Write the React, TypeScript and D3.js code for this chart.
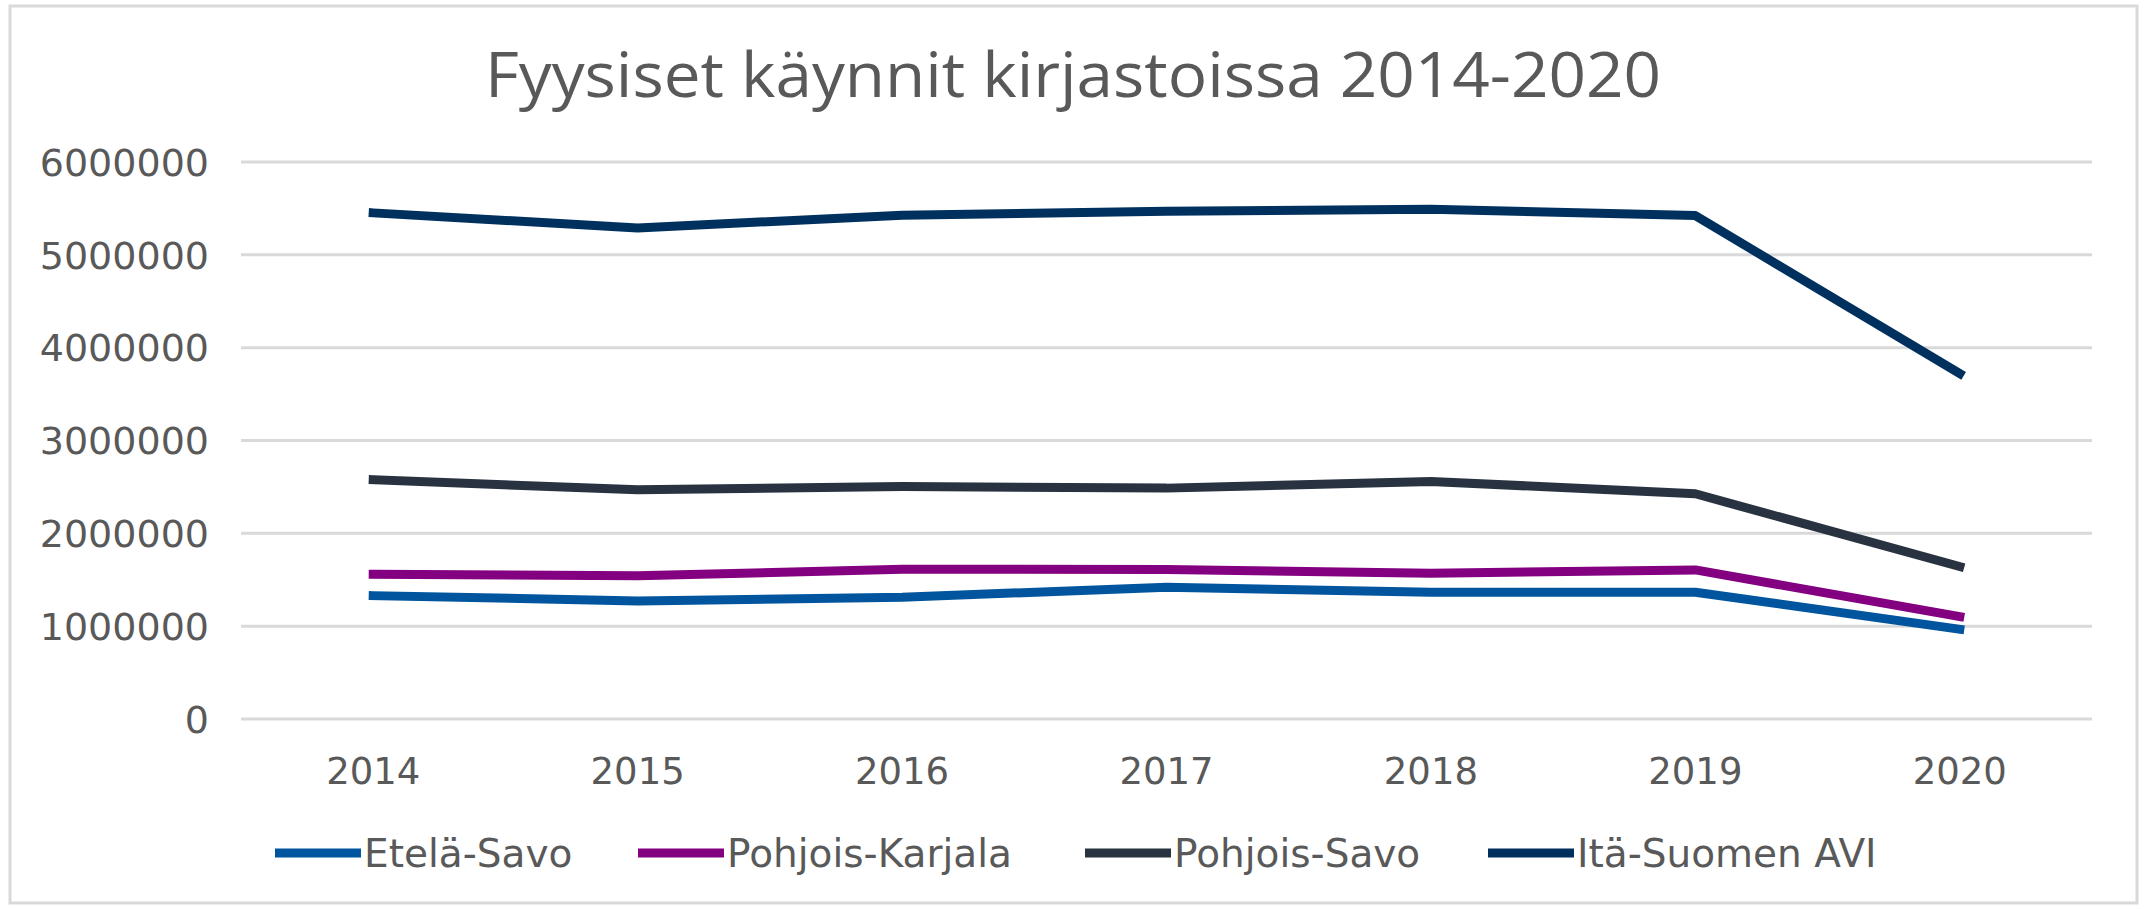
import React from "react";
import * as d3 from "d3";

const years = ["2014", "2015", "2016", "2017", "2018", "2019", "2020"];
const seriesNames = ["Etelä-Savo", "Pohjois-Karjala", "Pohjois-Savo", "Itä-Suomen AVI"];
const eteläSavo = [1329000, 1272000, 1312000, 1420000, 1366000, 1366000, 967000];
const pohjoisKarjala = [1560000, 1542000, 1614000, 1610000, 1571000, 1606000, 1103000];
const pohjoisSavo = [2577000, 2469000, 2505000, 2487000, 2559000, 2426000, 1642000];
const itäSuomenAvi = [5452000, 5290000, 5427000, 5470000, 5491000, 5423000, 3720000];
const seriesColors = ["#00559E", "#830081", "#283240", "#00305E"];
const yTicks = [0, 1000000, 2000000, 3000000, 4000000, 5000000, 6000000];
const title = "Fyysiset käynnit kirjastoissa 2014-2020";

const W = 2144;
const H = 909;

export default function App() {
  const values = [eteläSavo, pohjoisKarjala, pohjoisSavo, itäSuomenAvi];
  const x = d3.scaleBand<string>().domain(years).range([241, 2092]).padding(0);
  const y = d3.scaleLinear().domain([0, 6000000]).range([719, 162]);
  const cx = (yr: string) => (x(yr) as number) + x.bandwidth() / 2;
  const line = d3
    .line<number>()
    .x((_, i) => cx(years[i]))
    .y((v) => y(v));

  const font = "'DejaVu Sans', Verdana, sans-serif";
  const textColor = "#595959";

  const legendLineX = [275, 638, 1085, 1488];

  return (
    <svg
      width={W}
      height={H}
      style={{ position: "absolute", left: 0, top: 0, background: "#fff" }}
    >
      <rect x={0} y={0} width={W} height={H} fill="#fff" />
      <rect x={10} y={6} width={2127} height={897} fill="none" stroke="#d9d9d9" strokeWidth={3} />
      <text
        x={1073}
        y={97}
        textAnchor="middle"
        fontFamily="'Open Sans', sans-serif"
        fontSize={62}
        fill={textColor}
        textLength={1176}
        lengthAdjust="spacingAndGlyphs"
      >
        {title}
      </text>
      {yTicks.map((t) => (
        <g key={t}>
          <line x1={241} x2={2092} y1={y(t)} y2={y(t)} stroke="#d9d9d9" strokeWidth={3} />
          <text
            x={209}
            y={y(t)}
            dy="0.36em"
            textAnchor="end"
            fontFamily={font}
            fontSize={38}
            fill={textColor}
          >
            {String(t)}
          </text>
        </g>
      ))}
      {years.map((yr) => (
        <text
          key={yr}
          x={cx(yr)}
          y={784}
          textAnchor="middle"
          fontFamily={font}
          fontSize={37}
          fill={textColor}
        >
          {yr}
        </text>
      ))}
      {values.map((vals, i) => (
        <path
          key={seriesNames[i]}
          d={line(vals) || ""}
          fill="none"
          stroke={seriesColors[i]}
          strokeWidth={9}
          strokeLinejoin="round"
          strokeLinecap="square"
        />
      ))}
      {seriesNames.map((name, i) => (
        <g key={name}>
          <line
            x1={legendLineX[i]}
            x2={legendLineX[i] + 86}
            y1={853}
            y2={853}
            stroke={seriesColors[i]}
            strokeWidth={9}
          />
          <text
            x={legendLineX[i] + 89}
            y={853}
            dy="0.36em"
            fontFamily={font}
            fontSize={39}
            fill={textColor}
          >
            {name}
          </text>
        </g>
      ))}
    </svg>
  );
}
